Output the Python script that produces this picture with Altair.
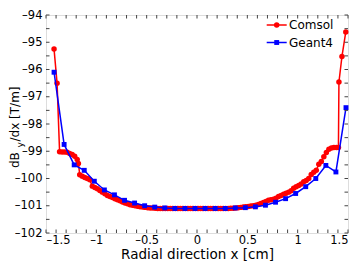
import altair as alt
import pandas as pd

# ---- data ----
comsol_x = [-1.42, -1.39, -1.365, -1.34, -1.315, -1.29, -1.265, -1.24, -1.215, -1.19,
            -1.178, -1.165, -1.14, -1.115, -1.09, -1.065, -1.04, -1.015, -0.99, -0.965,
            -0.94, -0.915, -0.89, -0.865, -0.84, -0.815, -0.79, -0.765, -0.74, -0.715,
            -0.69, -0.665, -0.64, -0.615, -0.59, -0.565, -0.54, -0.515, -0.49, -0.465,
            -0.44, -0.415, -0.39, -0.365, -0.34, -0.315, -0.29, -0.265, -0.24, -0.215,
            -0.19, -0.165, -0.14, -0.115, -0.09, -0.065, -0.04, -0.015, 0.01, 0.035,
            0.06, 0.085, 0.11, 0.135, 0.16, 0.185, 0.21, 0.235, 0.26, 0.285,
            0.31, 0.335, 0.36, 0.385, 0.41, 0.435, 0.46, 0.485, 0.51, 0.535,
            0.56, 0.585, 0.61, 0.635, 0.66, 0.685, 0.71, 0.735, 0.76, 0.785,
            0.81, 0.835, 0.86, 0.885, 0.91, 0.935, 0.96, 0.985, 1.01, 1.035,
            1.06, 1.085, 1.11, 1.135, 1.16, 1.185, 1.21, 1.235, 1.26, 1.285,
            1.31, 1.335, 1.36, 1.385, 1.405, 1.41, 1.44, 1.478]
comsol_y = [-95.25, -96.5, -99.02, -99.03, -99.03, -99.04, -99.08, -99.12, -99.18, -99.3,
            -99.45, -99.86, -99.92, -99.96, -100.0, -100.05, -100.28, -100.33, -100.38, -100.44,
            -100.5, -100.56, -100.62, -100.66, -100.7, -100.74, -100.78, -100.82, -100.86, -100.9,
            -100.93, -100.96, -100.98, -101.0, -101.02, -101.04, -101.05, -101.06, -101.07, -101.08,
            -101.08, -101.09, -101.1, -101.1, -101.1, -101.1, -101.1, -101.1, -101.1, -101.1,
            -101.1, -101.1, -101.1, -101.1, -101.1, -101.1, -101.1, -101.1, -101.1, -101.1,
            -101.1, -101.1, -101.1, -101.1, -101.1, -101.1, -101.1, -101.1, -101.1, -101.1,
            -101.1, -101.09, -101.09, -101.08, -101.07, -101.06, -101.05, -101.04, -101.03, -101.01,
            -101.0, -100.98, -100.95, -100.92, -100.88, -100.84, -100.8, -100.78, -100.76, -100.72,
            -100.66, -100.62, -100.58, -100.54, -100.5, -100.45, -100.36, -100.3, -100.26, -100.2,
            -100.12, -100.07, -100.0, -99.85, -99.77, -99.7, -99.48, -99.38, -99.2, -99.05,
            -98.93, -98.88, -98.86, -98.86, -98.86, -96.46, -95.52, -94.62]

geant_x = [-1.42, -1.32, -1.22, -1.12, -1.02, -0.92, -0.82, -0.72, -0.62, -0.52,
           -0.42, -0.32, -0.22, -0.12, -0.02, 0.08, 0.18, 0.28, 0.38, 0.48,
           0.58, 0.68, 0.78, 0.88, 0.98, 1.08, 1.18, 1.28, 1.38, 1.48]
geant_y = [-96.1, -98.75, -99.5, -99.7, -100.1, -100.42, -100.6, -100.8, -100.9, -101.0,
           -101.05, -101.08, -101.1, -101.1, -101.1, -101.1, -101.1, -101.1, -101.08, -101.07,
           -101.04, -100.98, -100.87, -100.74, -100.55, -100.3, -100.0, -99.52, -99.76, -97.4]

series_names = ["Comsol", "Geant4"]
series_colors = ["#ff0000", "#0000ff"]

x_label_values = [-1.5, -1.0, -0.5, 0.0, 0.5, 1.0, 1.5]
y_label_values = [-102, -101, -100, -99, -98, -97, -96, -95, -94]

TOP = 7
W, H = 302, 218
FONT = "DejaVu Sans"

xscale = alt.Scale(domain=[-1.5, 1.5], nice=False, zero=False)
yscale = alt.Scale(domain=[-102, -94], nice=False, zero=False)

red = pd.DataFrame({"x": comsol_x, "y": comsol_y})
blue = pd.DataFrame({"x": geant_x, "y": geant_y})

lab = "replace(datum.label, '\u2212', '\u2013')"

xaxis = alt.Axis(values=x_label_values, title="Radial direction x [cm]",
                 grid=False, domain=False, ticks=False, tickSize=0,
                 labelPadding=1, labelFontSize=11.5, labelFont=FONT,
                 labelColor="black", labelExpr=lab, format="~g",
                 titleFont=FONT, titleFontSize=13.5, titleFontWeight="normal",
                 titleColor="black", titleY=25.5, titleBaseline="alphabetic")
yaxis = alt.Axis(values=y_label_values, title=None,
                 grid=False, domain=False, ticks=False, tickSize=0,
                 labelPadding=4, labelFontSize=11.5, labelFont=FONT,
                 labelColor="black", labelExpr=lab)


def X():
    return alt.X("x:Q", scale=xscale, axis=xaxis)


def Y():
    return alt.Y("y:Q", scale=yscale, axis=yaxis)


red_line = alt.Chart(red).mark_line(color=series_colors[0], strokeWidth=1.5).encode(x=X(), y=Y())
red_pts = alt.Chart(red).mark_point(shape="circle", filled=True, size=30, opacity=1,
                                    color=series_colors[0]).encode(x=X(), y=Y())
blue_line = alt.Chart(blue).mark_line(color=series_colors[1], strokeWidth=1.5).encode(x=X(), y=Y())
blue_pts = alt.Chart(blue).mark_point(shape="square", filled=True, size=24, opacity=1,
                                      color=series_colors[1]).encode(x=X(), y=Y())

# inward ticks on all four sides (box style)
xt = pd.DataFrame({"x": [round(-1.5 + 0.1 * i, 2) for i in range(31)]})
yt = pd.DataFrame({"y": [-102 + 0.5 * i for i in range(17)]})
tick_color = "#444444"
xt_bot = alt.Chart(xt).mark_rule(color=tick_color, strokeWidth=1).encode(
    x=X(), y=alt.value(H), y2=alt.value(H - 3.5))
xt_top = alt.Chart(xt).mark_rule(color=tick_color, strokeWidth=1).encode(
    x=X(), y=alt.value(0), y2=alt.value(3.5))
yt_left = alt.Chart(yt).mark_rule(color=tick_color, strokeWidth=1).encode(
    y=Y(), x=alt.value(0), x2=alt.value(3.5))
yt_right = alt.Chart(yt).mark_rule(color=tick_color, strokeWidth=1).encode(
    y=Y(), x=alt.value(W), x2=alt.value(W - 3.5))

one = pd.DataFrame({"a": [0]})

# y-axis title with subscript
yt1 = alt.Chart(one).mark_text(text="dB", angle=270, align="left", baseline="middle",
                               font=FONT, fontSize=12, color="black").encode(
    x=alt.value(-31), y=alt.value(153))
yt2 = alt.Chart(one).mark_text(text="y", angle=270, align="left", baseline="middle",
                               font=FONT, fontSize=9, color="black").encode(
    x=alt.value(-26.5), y=alt.value(132.5))
yt3 = alt.Chart(one).mark_text(text="/dx [T/m]", angle=270, align="left", baseline="middle",
                               font=FONT, fontSize=12, color="black").encode(
    x=alt.value(-31), y=alt.value(126.5))

# legend (no box)
leg = []
for i, (name, col, shp, sz) in enumerate(zip(series_names, series_colors,
                                            ["circle", "square"], [30, 24])):
    yy = 10 + 17.5 * i
    leg.append(alt.Chart(one).mark_rule(color=col, strokeWidth=1.5).encode(
        x=alt.value(220.7), x2=alt.value(240.7), y=alt.value(yy)))
    leg.append(alt.Chart(one).mark_point(shape=shp, filled=True, size=sz, opacity=1,
                                         color=col).encode(x=alt.value(230.7), y=alt.value(yy)))
    leg.append(alt.Chart(one).mark_text(text=name, align="left", baseline="middle",
                                        font=FONT, fontSize=12, color="black").encode(
        x=alt.value(243), y=alt.value(yy)))

chart = alt.layer(red_line, red_pts, blue_line, blue_pts,
                  xt_bot, xt_top, yt_left, yt_right, yt1, yt2, yt3, *leg).properties(
    width=W, height=H,
    autosize=alt.AutoSizeParams(type="none"),
    padding={"left": 38, "top": TOP, "right": 6, "bottom": 30},
).configure_view(stroke="#444444", strokeWidth=1).configure(background="white")

chart.save("out.html", embed_options={"renderer": "svg", "actions": False})
